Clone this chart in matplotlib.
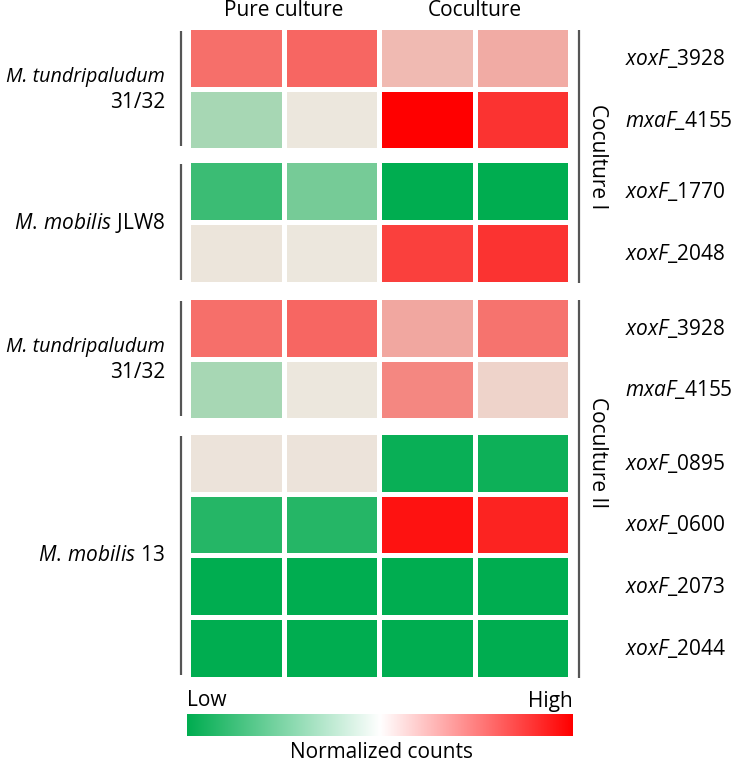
import numpy as np
import matplotlib
matplotlib.use('Agg')
import matplotlib.pyplot as plt
from matplotlib.colors import LinearSegmentedColormap, Normalize
from matplotlib.patches import Rectangle

plt.rcParams['font.family'] = 'Open Sans'
plt.rcParams['mathtext.fontset'] = 'custom'
plt.rcParams['mathtext.it'] = 'Open Sans:italic'
plt.rcParams['mathtext.rm'] = 'Open Sans'

# data
conditions = ['Pure culture', 'Coculture']
gene_prefix = ['xoxF', 'mxaF', 'xoxF', 'xoxF', 'xoxF', 'mxaF', 'xoxF', 'xoxF', 'xoxF', 'xoxF']
gene_id = ['3928', '4155', '1770', '2048', '3928', '4155', '0895', '0600', '2073', '2044']
# normalized counts, -1 = low (green), 1 = high (red); 2 pure culture + 2 coculture replicates
counts = [
    [0.52, 0.56, 0.20, 0.26],
    [-0.29, 0.00, 1.00, 0.78],
    [-0.75, -0.50, -1.00, -1.00],
    [0.01, 0.00, 0.72, 0.78],
    [0.52, 0.56, 0.28, 0.50],
    [-0.29, 0.00, 0.42, 0.09],
    [0.02, 0.02, -0.96, -0.94],
    [-0.84, -0.84, 0.92, 0.85],
    [-1.00, -1.00, -1.00, -1.00],
    [-1.00, -1.00, -1.00, -1.00],
]
organisms = ['M. tundripaludum', 'M. mobilis', 'M. tundripaludum', 'M. mobilis']
strains = ['31/32', 'JLW8', '31/32', '13']
group_rows = [(0, 2), (2, 4), (4, 6), (6, 10)]
cocultures = ['Coculture I', 'Coculture II']

green = (0 / 255, 173 / 255, 80 / 255)
red = (1.0, 0.0, 0.0)
cmap = LinearSegmentedColormap.from_list('gr', [green, (236/255, 232/255, 222/255), red])
cmap_bar = LinearSegmentedColormap.from_list('grbar', [green, (1, 1, 1), red])
norm = Normalize(-1, 1)

fig = plt.figure(figsize=(7.33, 7.64), dpi=100)
ax = fig.add_axes([0, 0, 1, 1])
ax.set_xlim(0, 733)
ax.set_ylim(764, 0)
ax.axis('off')

# layout (pixels)
x0, pitch_x, cw = 191, 95.5, 90.5
pitch_y, ch = 61.7, 56.7
extra = {2: 10, 4: 13, 6: 11.7}
tops = []
y = 30
for i in range(len(counts)):
    y += extra.get(i, 0)
    tops.append(y)
    y += pitch_y

fs = 15
for i, row in enumerate(counts):
    for j, v in enumerate(row):
        ax.add_patch(Rectangle((x0 + j * pitch_x, tops[i]), cw, ch,
                               facecolor=cmap(norm(v)), edgecolor='none'))
    ax.text(625, tops[i] + ch / 2, r'$\mathit{%s}$_%s' % (gene_prefix[i], gene_id[i]),
            fontsize=fs, ha='left', va='center')

ax.text(x0 + pitch_x - 2.5, 11, conditions[0], fontsize=fs, ha='center', va='center')
ax.text(x0 + 3 * pitch_x - 2.5, 11, conditions[1], fontsize=fs, ha='center', va='center')

# organism labels + brackets
for k, (a, b) in enumerate(group_rows):
    ytop, ybot = tops[a] + 1, tops[b - 1] + ch - 2
    ax.plot([181, 181], [ytop, ybot], color='#555555', lw=1.6, solid_capstyle='butt')
    yc = (tops[a] + tops[b - 1] + ch) / 2
    if organisms[k] == 'M. tundripaludum':
        ax.text(165, yc - 12, organisms[k], fontsize=14.2, style='italic', ha='right', va='center')
        ax.text(165, yc + 13, strains[k], fontsize=fs, ha='right', va='center')
    else:
        genus, species = organisms[k].split(' ')
        ax.text(165, yc, r'$\mathit{%s}\,\mathit{%s}\ \mathrm{%s}$' % (genus, species, strains[k]),
                fontsize=fs, ha='right', va='center')

# coculture brackets
for k, (a, b) in enumerate([(0, 4), (4, 10)]):
    ytop, ybot = tops[a], tops[b - 1] + ch + 1
    ax.plot([579, 579], [ytop, ybot], color='#555555', lw=1.6, solid_capstyle='butt')
ax.text(598, 157, cocultures[0], fontsize=fs, rotation=-90, ha='center', va='center')
ax.text(598, 453, cocultures[1], fontsize=fs, rotation=-90, ha='center', va='center')

# color scale
grad = np.linspace(-1, 1, 256).reshape(1, -1)
ax.imshow(grad, cmap=cmap_bar, norm=norm, extent=(187, 573, 736, 714), aspect='auto')
ax.set_xlim(0, 733)
ax.set_ylim(764, 0)
ax.text(187, 701, 'Low', fontsize=fs, ha='left', va='center')
ax.text(573, 701, 'High', fontsize=fs, ha='right', va='center')
ax.text(381, 752, 'Normalized counts', fontsize=fs, ha='center', va='center')

fig.savefig('out.png', dpi=100)
